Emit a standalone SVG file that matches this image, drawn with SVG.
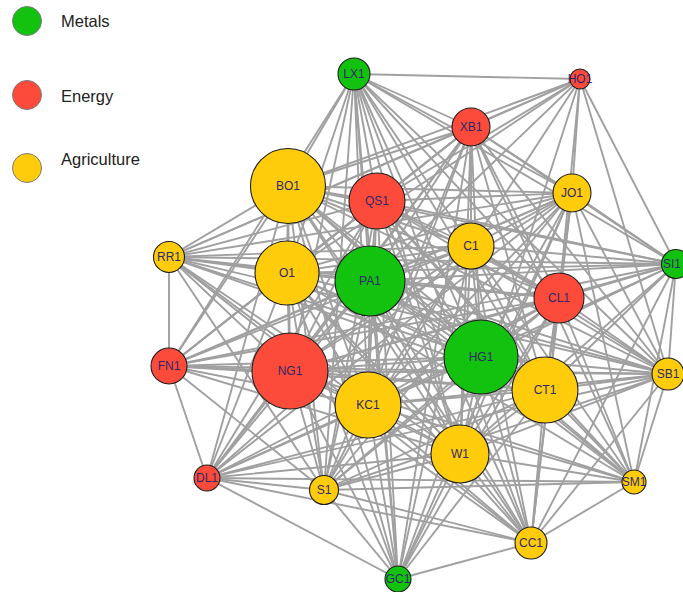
<svg xmlns="http://www.w3.org/2000/svg" width="683" height="592" viewBox="0 0 683 592">
<style>
.e line{stroke:#a0a0a0;stroke-width:1.9;stroke-linecap:round}
.n circle{stroke:#1e1e1e;stroke-width:1.1}
.n text{font-family:"Liberation Sans",Arial,sans-serif;font-size:12px;fill:#2e2868;text-anchor:middle}
.g{fill:#13c20f}.r{fill:#fd4b3b}.y{fill:#fecc0a}
.lg circle{stroke:#7a7a7a;stroke-width:1}
.lg text{font-family:"Liberation Sans",Arial,sans-serif;font-size:16.5px;fill:#222}
</style>
<rect width="683" height="592" fill="#fff"/>
<g id="legend" class="lg">
<circle class="g" cx="27" cy="21" r="14.5"/><text x="61" y="27">Metals</text>
<circle class="r" cx="27" cy="95" r="14.5"/><text x="61" y="102">Energy</text>
<circle class="y" cx="27" cy="168" r="14.5"/><text x="61" y="165">Agriculture</text>
</g>
<g id="connectors" class="e">
<line x1="471" y1="127" x2="288" y2="186"/><line x1="471" y1="127" x2="377" y2="201"/><line x1="471" y1="127" x2="572" y2="193"/><line x1="471" y1="127" x2="471" y2="246"/><line x1="471" y1="127" x2="287" y2="273"/><line x1="471" y1="127" x2="370" y2="281"/><line x1="471" y1="127" x2="559" y2="298"/><line x1="471" y1="127" x2="290" y2="371"/><line x1="471" y1="127" x2="481" y2="357"/><line x1="471" y1="127" x2="545" y2="390"/><line x1="471" y1="127" x2="368" y2="405"/><line x1="471" y1="127" x2="460" y2="454"/>
<line x1="288" y1="186" x2="377" y2="201"/><line x1="288" y1="186" x2="572" y2="193"/><line x1="288" y1="186" x2="471" y2="246"/><line x1="288" y1="186" x2="287" y2="273"/><line x1="288" y1="186" x2="370" y2="281"/><line x1="288" y1="186" x2="559" y2="298"/><line x1="288" y1="186" x2="290" y2="371"/><line x1="288" y1="186" x2="481" y2="357"/><line x1="288" y1="186" x2="545" y2="390"/><line x1="288" y1="186" x2="368" y2="405"/><line x1="288" y1="186" x2="460" y2="454"/>
<line x1="377" y1="201" x2="572" y2="193"/><line x1="377" y1="201" x2="471" y2="246"/><line x1="377" y1="201" x2="287" y2="273"/><line x1="377" y1="201" x2="370" y2="281"/><line x1="377" y1="201" x2="559" y2="298"/><line x1="377" y1="201" x2="290" y2="371"/><line x1="377" y1="201" x2="481" y2="357"/><line x1="377" y1="201" x2="545" y2="390"/><line x1="377" y1="201" x2="368" y2="405"/><line x1="377" y1="201" x2="460" y2="454"/>
<line x1="572" y1="193" x2="471" y2="246"/><line x1="572" y1="193" x2="287" y2="273"/><line x1="572" y1="193" x2="370" y2="281"/><line x1="572" y1="193" x2="559" y2="298"/><line x1="572" y1="193" x2="290" y2="371"/><line x1="572" y1="193" x2="481" y2="357"/><line x1="572" y1="193" x2="545" y2="390"/><line x1="572" y1="193" x2="368" y2="405"/><line x1="572" y1="193" x2="460" y2="454"/>
<line x1="471" y1="246" x2="287" y2="273"/><line x1="471" y1="246" x2="370" y2="281"/><line x1="471" y1="246" x2="559" y2="298"/><line x1="471" y1="246" x2="290" y2="371"/><line x1="471" y1="246" x2="481" y2="357"/><line x1="471" y1="246" x2="545" y2="390"/><line x1="471" y1="246" x2="368" y2="405"/><line x1="471" y1="246" x2="460" y2="454"/>
<line x1="287" y1="273" x2="370" y2="281"/><line x1="287" y1="273" x2="559" y2="298"/><line x1="287" y1="273" x2="290" y2="371"/><line x1="287" y1="273" x2="481" y2="357"/><line x1="287" y1="273" x2="545" y2="390"/><line x1="287" y1="273" x2="368" y2="405"/><line x1="287" y1="273" x2="460" y2="454"/>
<line x1="370" y1="281" x2="559" y2="298"/><line x1="370" y1="281" x2="290" y2="371"/><line x1="370" y1="281" x2="481" y2="357"/><line x1="370" y1="281" x2="545" y2="390"/><line x1="370" y1="281" x2="368" y2="405"/><line x1="370" y1="281" x2="460" y2="454"/>
<line x1="559" y1="298" x2="290" y2="371"/><line x1="559" y1="298" x2="481" y2="357"/><line x1="559" y1="298" x2="545" y2="390"/><line x1="559" y1="298" x2="368" y2="405"/><line x1="559" y1="298" x2="460" y2="454"/>
<line x1="290" y1="371" x2="481" y2="357"/><line x1="290" y1="371" x2="545" y2="390"/><line x1="290" y1="371" x2="368" y2="405"/><line x1="290" y1="371" x2="460" y2="454"/>
<line x1="481" y1="357" x2="545" y2="390"/><line x1="481" y1="357" x2="368" y2="405"/><line x1="481" y1="357" x2="460" y2="454"/>
<line x1="545" y1="390" x2="368" y2="405"/><line x1="545" y1="390" x2="460" y2="454"/><line x1="368" y1="405" x2="460" y2="454"/>
<line x1="354" y1="74" x2="580" y2="79"/><line x1="354" y1="74" x2="471" y2="127"/><line x1="354" y1="74" x2="572" y2="193"/><line x1="354" y1="74" x2="676" y2="264"/><line x1="354" y1="74" x2="288" y2="186"/><line x1="354" y1="74" x2="287" y2="273"/><line x1="354" y1="74" x2="290" y2="371"/><line x1="354" y1="74" x2="169" y2="366"/><line x1="354" y1="74" x2="370" y2="281"/><line x1="354" y1="74" x2="377" y2="201"/><line x1="354" y1="74" x2="368" y2="405"/><line x1="354" y1="74" x2="324" y2="490"/><line x1="354" y1="74" x2="398" y2="579"/><line x1="354" y1="74" x2="471" y2="246"/><line x1="354" y1="74" x2="481" y2="357"/><line x1="354" y1="74" x2="460" y2="454"/><line x1="354" y1="74" x2="531" y2="543"/><line x1="354" y1="74" x2="545" y2="390"/><line x1="354" y1="74" x2="559" y2="298"/><line x1="354" y1="74" x2="668" y2="374"/>
<line x1="580" y1="79" x2="471" y2="127"/><line x1="580" y1="79" x2="288" y2="186"/><line x1="580" y1="79" x2="377" y2="201"/><line x1="580" y1="79" x2="287" y2="273"/><line x1="580" y1="79" x2="169" y2="257"/><line x1="580" y1="79" x2="572" y2="193"/><line x1="580" y1="79" x2="471" y2="246"/><line x1="580" y1="79" x2="676" y2="264"/><line x1="580" y1="79" x2="668" y2="374"/><line x1="580" y1="79" x2="460" y2="454"/><line x1="580" y1="79" x2="370" y2="281"/><line x1="580" y1="79" x2="559" y2="298"/>
<line x1="169" y1="257" x2="169" y2="366"/><line x1="169" y1="257" x2="471" y2="127"/><line x1="169" y1="257" x2="288" y2="186"/><line x1="169" y1="257" x2="287" y2="273"/><line x1="169" y1="257" x2="377" y2="201"/><line x1="169" y1="257" x2="370" y2="281"/><line x1="169" y1="257" x2="471" y2="246"/><line x1="169" y1="257" x2="572" y2="193"/><line x1="169" y1="257" x2="290" y2="371"/><line x1="169" y1="257" x2="559" y2="298"/><line x1="169" y1="257" x2="676" y2="264"/><line x1="169" y1="257" x2="481" y2="357"/><line x1="169" y1="257" x2="368" y2="405"/><line x1="169" y1="257" x2="545" y2="390"/><line x1="169" y1="257" x2="324" y2="490"/><line x1="169" y1="257" x2="460" y2="454"/><line x1="169" y1="257" x2="668" y2="374"/><line x1="169" y1="257" x2="531" y2="543"/>
<line x1="169" y1="366" x2="207" y2="478"/><line x1="169" y1="366" x2="287" y2="273"/><line x1="169" y1="366" x2="288" y2="186"/><line x1="169" y1="366" x2="377" y2="201"/><line x1="169" y1="366" x2="370" y2="281"/><line x1="169" y1="366" x2="471" y2="246"/><line x1="169" y1="366" x2="290" y2="371"/><line x1="169" y1="366" x2="481" y2="357"/><line x1="169" y1="366" x2="559" y2="298"/><line x1="169" y1="366" x2="545" y2="390"/><line x1="169" y1="366" x2="368" y2="405"/><line x1="169" y1="366" x2="668" y2="374"/><line x1="169" y1="366" x2="676" y2="264"/><line x1="169" y1="366" x2="460" y2="454"/><line x1="169" y1="366" x2="324" y2="490"/><line x1="169" y1="366" x2="572" y2="193"/><line x1="169" y1="366" x2="471" y2="127"/>
<line x1="207" y1="478" x2="398" y2="579"/><line x1="207" y1="478" x2="634" y2="482"/><line x1="207" y1="478" x2="324" y2="490"/><line x1="207" y1="478" x2="290" y2="371"/><line x1="207" y1="478" x2="287" y2="273"/><line x1="207" y1="478" x2="288" y2="186"/><line x1="207" y1="478" x2="370" y2="281"/><line x1="207" y1="478" x2="377" y2="201"/><line x1="207" y1="478" x2="368" y2="405"/><line x1="207" y1="478" x2="460" y2="454"/><line x1="207" y1="478" x2="481" y2="357"/><line x1="207" y1="478" x2="545" y2="390"/><line x1="207" y1="478" x2="471" y2="246"/><line x1="207" y1="478" x2="559" y2="298"/><line x1="207" y1="478" x2="531" y2="543"/><line x1="207" y1="478" x2="572" y2="193"/><line x1="207" y1="478" x2="668" y2="374"/><line x1="207" y1="478" x2="471" y2="127"/>
<line x1="324" y1="490" x2="398" y2="579"/><line x1="324" y1="490" x2="634" y2="482"/><line x1="324" y1="490" x2="531" y2="543"/><line x1="324" y1="490" x2="290" y2="371"/><line x1="324" y1="490" x2="287" y2="273"/><line x1="324" y1="490" x2="288" y2="186"/><line x1="324" y1="490" x2="370" y2="281"/><line x1="324" y1="490" x2="377" y2="201"/><line x1="324" y1="490" x2="368" y2="405"/><line x1="324" y1="490" x2="481" y2="357"/><line x1="324" y1="490" x2="545" y2="390"/><line x1="324" y1="490" x2="471" y2="246"/><line x1="324" y1="490" x2="559" y2="298"/><line x1="324" y1="490" x2="460" y2="454"/><line x1="324" y1="490" x2="471" y2="127"/><line x1="324" y1="490" x2="572" y2="193"/><line x1="324" y1="490" x2="668" y2="374"/>
<line x1="398" y1="579" x2="531" y2="543"/><line x1="398" y1="579" x2="368" y2="405"/><line x1="398" y1="579" x2="290" y2="371"/><line x1="398" y1="579" x2="370" y2="281"/><line x1="398" y1="579" x2="287" y2="273"/><line x1="398" y1="579" x2="377" y2="201"/><line x1="398" y1="579" x2="288" y2="186"/><line x1="398" y1="579" x2="481" y2="357"/><line x1="398" y1="579" x2="471" y2="246"/><line x1="398" y1="579" x2="559" y2="298"/><line x1="398" y1="579" x2="460" y2="454"/><line x1="398" y1="579" x2="545" y2="390"/><line x1="398" y1="579" x2="471" y2="127"/><line x1="398" y1="579" x2="572" y2="193"/>
<line x1="531" y1="543" x2="634" y2="482"/><line x1="531" y1="543" x2="668" y2="374"/><line x1="531" y1="543" x2="676" y2="264"/><line x1="531" y1="543" x2="545" y2="390"/><line x1="531" y1="543" x2="481" y2="357"/><line x1="531" y1="543" x2="460" y2="454"/><line x1="531" y1="543" x2="368" y2="405"/><line x1="531" y1="543" x2="290" y2="371"/><line x1="531" y1="543" x2="370" y2="281"/><line x1="531" y1="543" x2="377" y2="201"/><line x1="531" y1="543" x2="287" y2="273"/><line x1="531" y1="543" x2="288" y2="186"/><line x1="531" y1="543" x2="471" y2="246"/><line x1="531" y1="543" x2="559" y2="298"/><line x1="531" y1="543" x2="572" y2="193"/>
<line x1="634" y1="482" x2="668" y2="374"/><line x1="634" y1="482" x2="676" y2="264"/><line x1="634" y1="482" x2="545" y2="390"/><line x1="634" y1="482" x2="481" y2="357"/><line x1="634" y1="482" x2="460" y2="454"/><line x1="634" y1="482" x2="368" y2="405"/><line x1="634" y1="482" x2="290" y2="371"/><line x1="634" y1="482" x2="370" y2="281"/><line x1="634" y1="482" x2="287" y2="273"/><line x1="634" y1="482" x2="377" y2="201"/><line x1="634" y1="482" x2="471" y2="246"/><line x1="634" y1="482" x2="559" y2="298"/><line x1="634" y1="482" x2="572" y2="193"/><line x1="634" y1="482" x2="471" y2="127"/><line x1="634" y1="482" x2="288" y2="186"/>
<line x1="668" y1="374" x2="676" y2="264"/><line x1="668" y1="374" x2="545" y2="390"/><line x1="668" y1="374" x2="481" y2="357"/><line x1="668" y1="374" x2="559" y2="298"/><line x1="668" y1="374" x2="471" y2="246"/><line x1="668" y1="374" x2="572" y2="193"/><line x1="668" y1="374" x2="460" y2="454"/><line x1="668" y1="374" x2="368" y2="405"/><line x1="668" y1="374" x2="370" y2="281"/><line x1="668" y1="374" x2="290" y2="371"/><line x1="668" y1="374" x2="287" y2="273"/><line x1="668" y1="374" x2="377" y2="201"/><line x1="668" y1="374" x2="288" y2="186"/><line x1="668" y1="374" x2="471" y2="127"/>
<line x1="676" y1="264" x2="572" y2="193"/><line x1="676" y1="264" x2="471" y2="127"/><line x1="676" y1="264" x2="471" y2="246"/><line x1="676" y1="264" x2="559" y2="298"/><line x1="676" y1="264" x2="481" y2="357"/><line x1="676" y1="264" x2="545" y2="390"/><line x1="676" y1="264" x2="370" y2="281"/><line x1="676" y1="264" x2="377" y2="201"/><line x1="676" y1="264" x2="287" y2="273"/><line x1="676" y1="264" x2="288" y2="186"/><line x1="676" y1="264" x2="290" y2="371"/><line x1="676" y1="264" x2="460" y2="454"/><line x1="676" y1="264" x2="368" y2="405"/>
</g>
<g id="LX1" class="n"><circle class="g" cx="354" cy="74" r="16"/><text x="354" y="78">LX1</text></g>
<g id="HO1" class="n"><circle class="r" cx="580" cy="79" r="10"/><text x="580" y="83">HO1</text></g>
<g id="XB1" class="n"><circle class="r" cx="471" cy="127" r="19"/><text x="471" y="131">XB1</text></g>
<g id="BO1" class="n"><circle class="y" cx="288" cy="186" r="37.5"/><text x="288" y="190">BO1</text></g>
<g id="QS1" class="n"><circle class="r" cx="377" cy="201" r="28"/><text x="377" y="205">QS1</text></g>
<g id="JO1" class="n"><circle class="y" cx="572" cy="193" r="19"/><text x="572" y="197">JO1</text></g>
<g id="C1" class="n"><circle class="y" cx="471" cy="246" r="23"/><text x="471" y="250">C1</text></g>
<g id="RR1" class="n"><circle class="y" cx="169" cy="257" r="15.5"/><text x="169" y="261">RR1</text></g>
<g id="O1" class="n"><circle class="y" cx="287" cy="273" r="32"/><text x="287" y="277">O1</text></g>
<g id="PA1" class="n"><circle class="g" cx="370" cy="281" r="35"/><text x="370" y="285">PA1</text></g>
<g id="SI1" class="n"><circle class="g" cx="676" cy="264" r="14.5"/><text x="672" y="268">SI1</text></g>
<g id="CL1" class="n"><circle class="r" cx="559" cy="298" r="25"/><text x="559" y="302">CL1</text></g>
<g id="FN1" class="n"><circle class="r" cx="169" cy="366" r="18"/><text x="169" y="370">FN1</text></g>
<g id="NG1" class="n"><circle class="r" cx="290" cy="371" r="38"/><text x="290" y="375">NG1</text></g>
<g id="HG1" class="n"><circle class="g" cx="481" cy="357" r="37"/><text x="481" y="361">HG1</text></g>
<g id="CT1" class="n"><circle class="y" cx="545" cy="390" r="33"/><text x="545" y="394">CT1</text></g>
<g id="SB1" class="n"><circle class="y" cx="668" cy="374" r="16"/><text x="668" y="378">SB1</text></g>
<g id="KC1" class="n"><circle class="y" cx="368" cy="405" r="33"/><text x="368" y="409">KC1</text></g>
<g id="W1" class="n"><circle class="y" cx="460" cy="454" r="29"/><text x="460" y="458">W1</text></g>
<g id="DL1" class="n"><circle class="r" cx="207" cy="478" r="13"/><text x="207" y="482">DL1</text></g>
<g id="S1" class="n"><circle class="y" cx="324" cy="490" r="14.5"/><text x="324" y="494">S1</text></g>
<g id="SM1" class="n"><circle class="y" cx="634" cy="482" r="12"/><text x="634" y="486">SM1</text></g>
<g id="CC1" class="n"><circle class="y" cx="531" cy="543" r="16"/><text x="531" y="547">CC1</text></g>
<g id="GC1" class="n"><circle class="g" cx="398" cy="579" r="13"/><text x="398" y="583">GC1</text></g>
</svg>
